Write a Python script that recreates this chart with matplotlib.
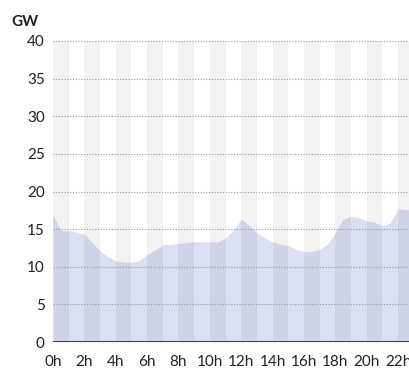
import numpy as np
import matplotlib
matplotlib.use("Agg")
import matplotlib.pyplot as plt

plt.rcParams['font.family'] = ['Lato', 'DejaVu Sans']

# half-hourly demand, GW
hours = [0, 0.5, 1, 1.5, 2, 2.5, 3, 3.5, 4, 4.5, 5, 5.5, 6, 6.5, 7, 7.5,
         8, 8.5, 9, 9.5, 10, 10.5, 11, 11.5, 12, 12.5, 13, 13.5, 14, 14.5,
         15, 15.5, 16, 16.5, 17, 17.5, 18, 18.5, 19, 19.5, 20, 20.5, 21,
         21.5, 22, 22.5, 23]
demand = [16.9, 14.8, 14.8, 14.6, 14.3, 13.2, 12.1, 11.3, 10.8, 10.6, 10.6,
          10.8, 11.6, 12.2, 12.9, 13.0, 13.1, 13.2, 13.3, 13.3, 13.3, 13.3,
          13.8, 14.9, 16.3, 15.5, 14.5, 13.8, 13.3, 13.0, 12.8, 12.3, 12.0,
          12.0, 12.3, 13.0, 14.5, 16.3, 16.7, 16.5, 16.1, 15.9, 15.4, 15.8,
          17.7, 17.6, 17.5]
x_ticks = list(range(0, 24, 2))
x_labels = [f"{h}h" for h in x_ticks]
y_ticks = list(range(0, 45, 5))

fig = plt.figure(figsize=(4.09, 3.70), dpi=100)
ax = fig.add_axes([53 / 409, 28 / 370, 1 - 53 / 409, 301 / 370])

ax.fill_between(hours, demand, 0, color='#dadff2', lw=0, zorder=1)
for h in range(0, 24, 2):
    ax.axvspan(h, h + 1, color='black', alpha=0.05, lw=0, zorder=2)

for y in y_ticks[1:]:
    ax.axhline(y, color='#999999', lw=0.8, ls=(0, (1, 1.5)), zorder=3)
ax.axhline(0, color='#444444', lw=2.2, zorder=4)

ax.set_xlim(0, 22.7)
ax.set_ylim(0, 40)
ax.set_xticks(x_ticks)
ax.set_xticklabels(x_labels)
ax.set_yticks(y_ticks)
ax.tick_params(length=0, labelsize=11, colors='#222222', pad=6)
ax.tick_params(axis='x', pad=9)
for s in ax.spines.values():
    s.set_visible(False)
ax.set_clip_on(False)

fig.text(11 / 409, 1 - 22 / 370, "GW", fontsize=11, fontweight='bold',
         va='center', ha='left', color='#222222')

fig.savefig("out.png", dpi=100)
